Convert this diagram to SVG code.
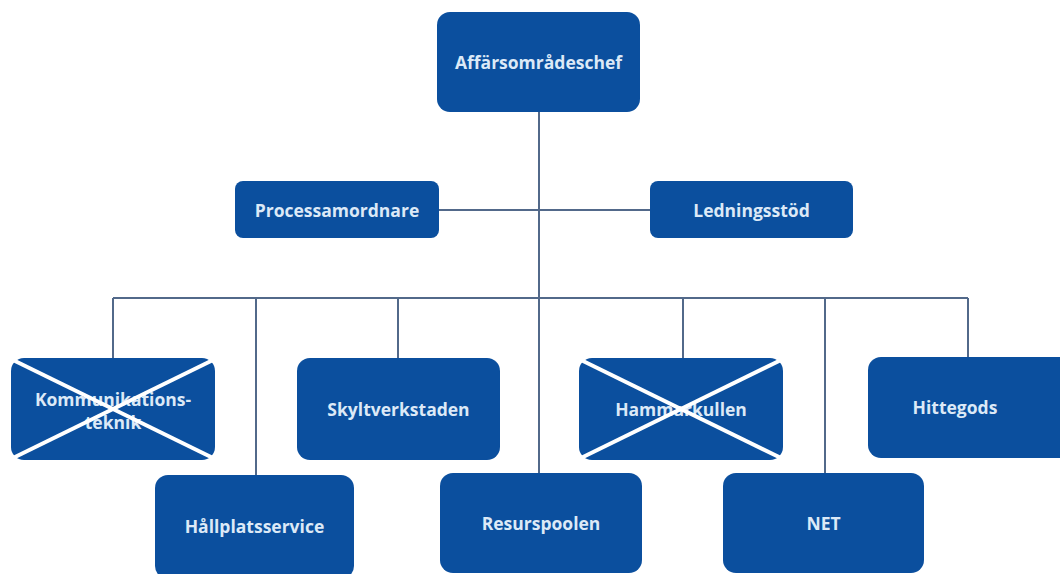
<svg xmlns="http://www.w3.org/2000/svg" width="1060" height="574" viewBox="0 0 1060 574">
<style>
.box{fill:#0b4f9e;}
.lbl{font-family:"Open Sans","Liberation Sans",sans-serif;font-weight:bold;font-size:17.5px;fill:#dce9f7;text-anchor:middle;dominant-baseline:central;}
.conn{stroke:#52698a;stroke-width:2;fill:none;}
.cross{stroke:#ffffff;stroke-width:4;}
</style>
<rect width="1060" height="574" fill="#ffffff"/>
<g id="connectors">
<line class="conn" x1="539" y1="112" x2="539" y2="473"/>
<line class="conn" x1="439" y1="210" x2="650" y2="210"/>
<line class="conn" x1="113" y1="298" x2="968" y2="298"/>
<line class="conn" x1="113" y1="298" x2="113" y2="358"/>
<line class="conn" x1="256" y1="298" x2="256" y2="475"/>
<line class="conn" x1="398" y1="298" x2="398" y2="358"/>
<line class="conn" x1="683" y1="298" x2="683" y2="358"/>
<line class="conn" x1="825" y1="298" x2="825" y2="473"/>
<line class="conn" x1="968" y1="298" x2="968" y2="357"/>
</g>
<g id="affarsomradeschef">
<rect class="box" x="437" y="12" width="203" height="100" rx="13"/>
<text class="lbl" x="538.5" y="62">Affärsområdeschef</text>
</g>
<g id="processamordnare">
<rect class="box" x="235" y="181" width="204" height="57" rx="8"/>
<text class="lbl" x="337" y="210">Processamordnare</text>
</g>
<g id="ledningsstod">
<rect class="box" x="650" y="181" width="203" height="57" rx="8"/>
<text class="lbl" x="751.5" y="210">Ledningsstöd</text>
</g>
<g id="kommunikationsteknik">
<rect class="box" x="11" y="358" width="204" height="102" rx="13"/>
<text class="lbl" x="113" y="399">Kommunikations-</text>
<text class="lbl" x="113" y="422">teknik</text>
<line class="cross" x1="13" y1="360" x2="213" y2="458"/>
<line class="cross" x1="213" y1="360" x2="13" y2="458"/>
</g>
<g id="skyltverkstaden">
<rect class="box" x="297" y="358" width="203" height="102" rx="13"/>
<text class="lbl" x="398.5" y="409">Skyltverkstaden</text>
</g>
<g id="hammarkullen">
<rect class="box" x="579" y="358" width="204" height="102" rx="13"/>
<text class="lbl" x="681" y="409">Hammarkullen</text>
<line class="cross" x1="581" y1="360" x2="781" y2="458"/>
<line class="cross" x1="781" y1="360" x2="581" y2="458"/>
</g>
<g id="hittegods">
<rect class="box" x="868" y="357" width="210" height="101" rx="13"/>
<text class="lbl" x="955" y="407">Hittegods</text>
</g>
<g id="hallplatsservice">
<rect class="box" x="155" y="475" width="199" height="104" rx="13"/>
<text class="lbl" x="254.5" y="526">Hållplatsservice</text>
</g>
<g id="resurspoolen">
<rect class="box" x="440" y="473" width="202" height="100" rx="13"/>
<text class="lbl" x="541" y="523">Resurspoolen</text>
</g>
<g id="net">
<rect class="box" x="723" y="473" width="201" height="100" rx="13"/>
<text class="lbl" x="823.5" y="523">NET</text>
</g>
</svg>
